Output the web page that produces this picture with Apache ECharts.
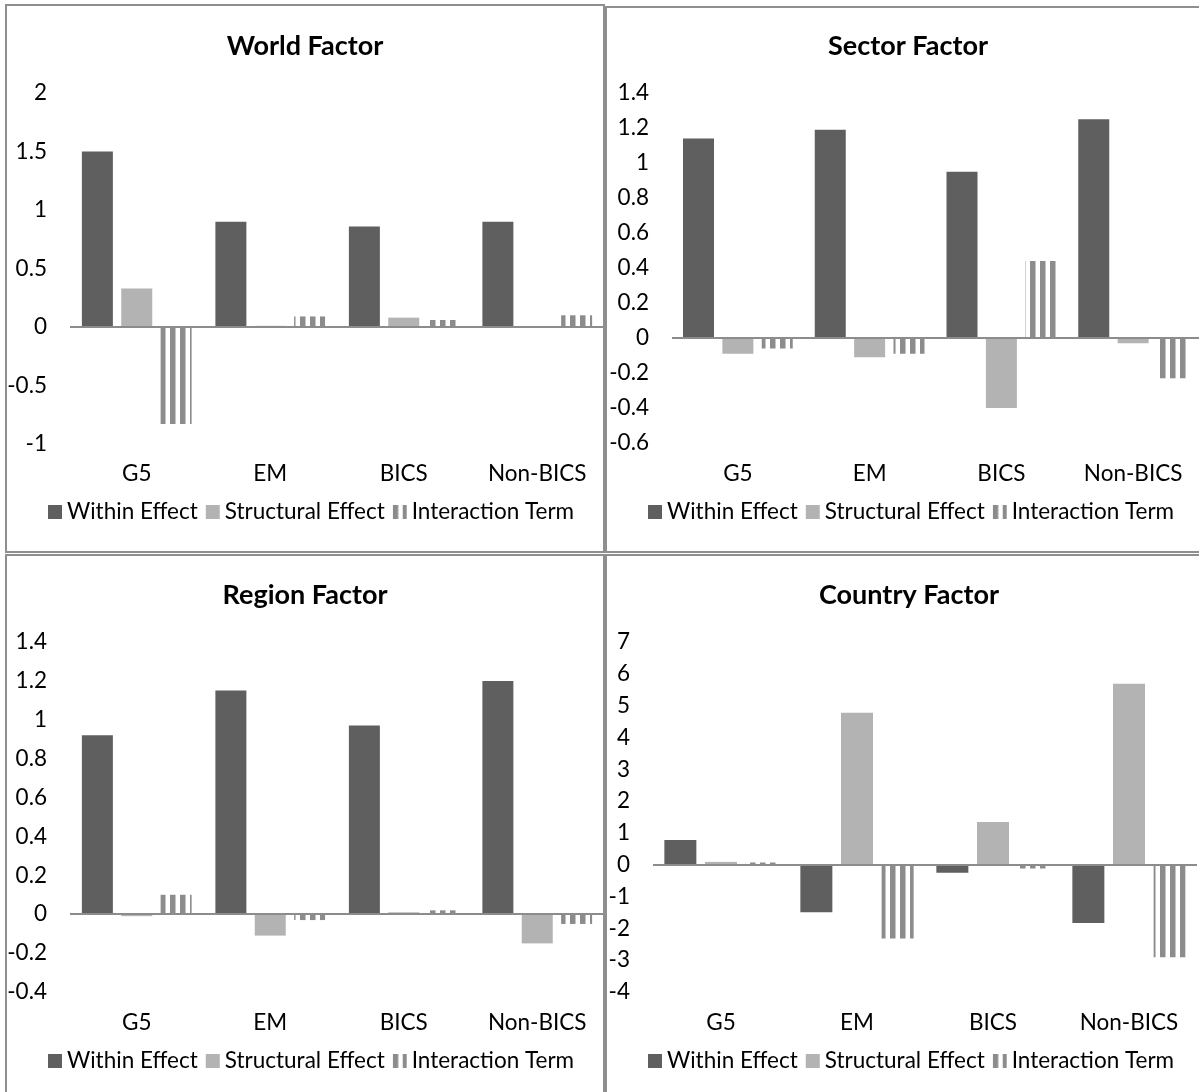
<!DOCTYPE html>
<html>
<head>
<meta charset="utf-8">
<script src="https://cdn.jsdelivr.net/npm/echarts@6/dist/echarts.min.js"></script>
<style>
html,body{margin:0;padding:0;background:#fff;}
#chart{width:1199px;height:1092px;}
</style>
</head>
<body>
<div id="chart"></div>
<script>
// ---- data ----
const categories = ['G5', 'EM', 'BICS', 'Non-BICS'];
const seriesNames = ['Within Effect', 'Structural Effect', 'Interaction Term'];
const panelTitles = ['World Factor', 'Sector Factor', 'Region Factor', 'Country Factor'];

const worldWithin = [1.50, 0.90, 0.86, 0.90];
const worldStructural = [0.33, 0.01, 0.08, 0.0];
const worldInteraction = [-0.83, 0.09, 0.06, 0.10];

const sectorWithin = [1.14, 1.19, 0.95, 1.25];
const sectorStructural = [-0.09, -0.11, -0.40, -0.03];
const sectorInteraction = [-0.06, -0.09, 0.44, -0.23];

const regionWithin = [0.92, 1.15, 0.97, 1.20];
const regionStructural = [-0.01, -0.11, 0.01, -0.15];
const regionInteraction = [0.10, -0.03, 0.02, -0.05];

const countryWithin = [0.78, -1.49, -0.25, -1.83];
const countryStructural = [0.09, 4.78, 1.34, 5.69];
const countryInteraction = [0.07, -2.32, -0.12, -2.91];

// y-axis ranges [min, max, interval]
const worldAxis = [-1, 2, 0.5];
const sectorAxis = [-0.6, 1.4, 0.2];
const regionAxis = [-0.4, 1.4, 0.2];
const countryAxis = [-4, 7, 1];

// ---- styling / layout ----
const FONT = 'Lato';
const FS = 22.5;
const COLOR_WITHIN = '#5f5f5f';
const COLOR_STRUCT = '#b3b3b3';

function stripePattern() {
  const c = document.createElement('canvas');
  c.width = 10; c.height = 10;
  const g = c.getContext('2d');
  g.fillStyle = '#ffffff'; g.fillRect(0, 0, 10, 10);
  g.fillStyle = '#8c8c8c'; g.fillRect(0, 0, 5, 10);
  g.fillStyle = '#c4c4c4'; g.fillRect(5, 0, 1, 10);
  return c;
}
const STRIPES = { image: stripePattern(), repeat: 'repeat' };

const panels = [
  { data: [worldWithin, worldStructural, worldInteraction], axis: worldAxis,
    grid: { left: 70, top: 93, width: 534, height: 351 }, bw: 31, lblMargin: 18,
    titleX: 305, titleY: 46, legendLeft: 48, legendY: 512, border: { x: 6, y: 5, width: 598, height: 547 } },
  { data: [sectorWithin, sectorStructural, sectorInteraction], axis: sectorAxis,
    grid: { left: 672, top: 93, width: 540, height: 350 }, bw: 31, lblMargin: 19,
    titleX: 908, titleY: 46, legendLeft: 648, legendY: 512, border: { x: 606, y: 7, width: 620, height: 545 } },
  { data: [regionWithin, regionStructural, regionInteraction], axis: regionAxis,
    grid: { left: 70, top: 642, width: 534, height: 350 }, bw: 31, lblMargin: 19,
    titleX: 305, titleY: 595, legendLeft: 48, legendY: 1061, border: { x: 6, y: 555, width: 598, height: 580 } },
  { data: [countryWithin, countryStructural, countryInteraction], axis: countryAxis,
    grid: { left: 653, top: 642, width: 544, height: 350 }, bw: 32, lblMargin: 19,
    titleX: 909, titleY: 595, legendLeft: 648, legendY: 1061, border: { x: 606, y: 555, width: 620, height: 580 } }
];

const option = {
  animation: false,
  backgroundColor: '#ffffff',
  textStyle: { fontFamily: FONT },
  title: [], legend: [], grid: [], xAxis: [], yAxis: [], series: [],
  graphic: []
};

panels.forEach((p, i) => {
  option.graphic.push({
    type: 'rect', shape: p.border, silent: true, z: 100,
    style: { fill: 'none', stroke: '#8f8f8f', lineWidth: 2 }
  });
  option.title.push({
    text: panelTitles[i], left: p.titleX, top: p.titleY - 16, textAlign: 'center', padding: 0,
    textStyle: { fontFamily: FONT, fontWeight: 'bold', fontSize: 27, lineHeight: 32, color: '#000' }
  });
  option.legend.push({
    data: seriesNames, left: p.legendLeft, top: p.legendY - 12, padding: 0,
    itemWidth: 14, itemHeight: 14, itemGap: 8, icon: 'rect', selectedMode: false,
    textStyle: { fontFamily: FONT, fontSize: FS, lineHeight: 24, color: '#000' }
  });
  option.grid.push(Object.assign({ containLabel: false }, p.grid));
  option.xAxis.push({
    type: 'category', data: categories, gridIndex: i,
    axisLine: { show: false, onZero: false }, axisTick: { show: false },
    axisLabel: { fontFamily: FONT, fontSize: FS, lineHeight: 24, color: '#000', margin: p.lblMargin },
    splitLine: { show: false }
  });
  option.yAxis.push({
    type: 'value', gridIndex: i, min: p.axis[0], max: p.axis[1], interval: p.axis[2],
    axisLine: { show: false }, axisTick: { show: false }, splitLine: { show: false },
    axisLabel: { fontFamily: FONT, fontSize: FS, color: '#000', margin: 23 }
  });
  const colors = [COLOR_WITHIN, COLOR_STRUCT, STRIPES];
  seriesNames.forEach((name, k) => {
    const s = {
      name: name, type: 'bar', xAxisIndex: i, yAxisIndex: i,
      data: p.data[k], barWidth: p.bw, barGap: '27%',
      itemStyle: { color: colors[k] }
    };
    if (k === 0) {
      s.markLine = {
        silent: true, symbol: 'none', label: { show: false },
        lineStyle: { color: '#8c8c8c', width: 2, type: 'solid' },
        data: [{ yAxis: 0 }]
      };
    }
    option.series.push(s);
  });
});

const chart = echarts.init(document.getElementById('chart'), null, { renderer: 'canvas' });
chart.setOption(option);
</script>
</body>
</html>
